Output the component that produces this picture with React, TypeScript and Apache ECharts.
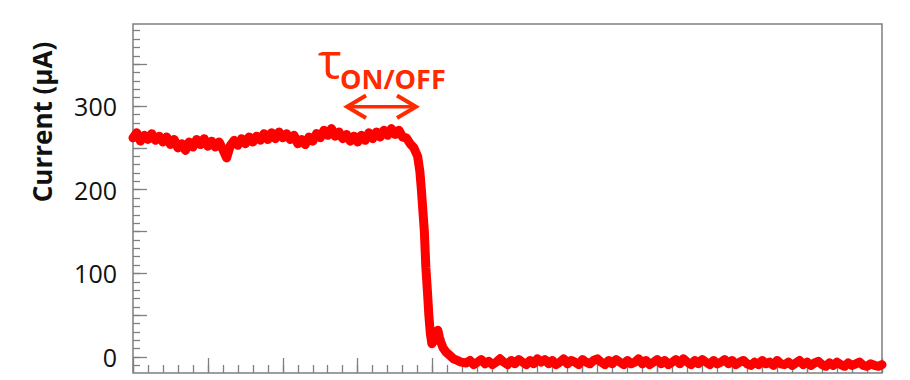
import React, { useEffect, useRef } from "react";
import * as echarts from "echarts";

// Time axis (arbitrary units, 0..10), current in µA
const TIME_MIN = 0;
const TIME_MAX = 10;
const CURRENT_MIN = -19;
const CURRENT_MAX = 398;

const labelTicks = [0, 100, 200, 300];
const mediumTicks = [0, 50, 100, 150, 200, 250, 300, 350];
const minorTicks = [-10, 0, 10, 20, 30, 40, 50, 60, 70, 80, 90, 100, 110, 120, 130, 140, 150, 160, 170, 180, 190, 200, 210, 220, 230, 240, 250, 260, 270, 280, 290, 300, 310, 320, 330, 340, 350, 360, 370, 380, 390];

// ON plateau, sampled every 0.05 from t = 0
const plateauStart = 0;
const plateauStep = 0.05;
const plateauCurrent = [
  262, 268, 258, 265, 260, 267, 259, 264, 257, 263,
  254, 260, 250, 255, 247, 257, 251, 260, 254, 261,
  252, 258, 251, 257, 248, 238, 253, 259, 253, 261,
  255, 263, 257, 264, 259, 267, 260, 268, 261, 269,
  262, 267, 260, 265, 255, 260, 254, 263, 258, 267,
  262, 271, 265, 273, 264, 269, 261, 266, 258, 264,
  257, 265, 259, 268, 261, 269, 263, 271, 265, 273,
  266, 271, 263, 262, 255, 250, 240,
];

// switching transient
const dropTime = [3.83, 3.85, 3.87, 3.89, 3.91, 3.93, 3.95, 3.97, 3.99, 4.02, 4.05, 4.07, 4.09, 4.11, 4.14, 4.18, 4.23, 4.28, 4.33, 4.38];
const dropCurrent = [222, 200, 175, 150, 107, 80, 50, 28, 16, 20, 30, 32, 24, 18, 11, 6, 2, -2, -4, -6];

// OFF tail, sampled every 0.05 from t = 4.45
const tailStart = 4.45;
const tailStep = 0.05;
const tailCurrent = [
  -7, -4, -9, -6, -3, -8, -5, -9, -6, -2,
  -6, -9, -4, -8, -3, -6, -9, -4, -8, -2,
  -6, -3, -8, -4, -9, -6, -2, -8, -4, -6,
  -9, -3, -6, -8, -4, -2, -6, -9, -4, -8,
  -3, -6, -9, -4, -8, -6, -2, -8, -4, -9,
  -6, -3, -8, -4, -9, -6, -3, -8, -2, -6,
  -9, -4, -8, -3, -6, -9, -4, -8, -6, -3,
  -8, -4, -9, -6, -4, -8, -10, -6, -9, -4,
  -8, -6, -10, -4, -8, -9, -6, -10, -7, -4,
  -9, -6, -10, -7, -5, -9, -11, -7, -10, -6,
  -9, -11, -7, -10, -8, -6, -10, -11, -8, -10,
  -11, -9,
];

const yTitle = "Current (μA)";
const tauText = "τ";
const subText = "ON/OFF";

const FRAME = "#7f7f7f";
const LINE_RED = "#ff0000";
const ANNOT = "#ff2a00";
const FONT = "'Open Sans', 'Noto Sans', sans-serif";

function buildData(): number[][] {
  const d: number[][] = [];
  plateauCurrent.forEach((v, i) => d.push([+(plateauStart + i * plateauStep).toFixed(3), v]));
  dropTime.forEach((t, i) => d.push([t, dropCurrent[i]]));
  tailCurrent.forEach((v, i) => d.push([+(tailStart + i * tailStep).toFixed(3), v]));
  return d;
}

export default function App() {
  const ref = useRef<HTMLDivElement>(null);
  useEffect(() => {
    if (!ref.current) return;
    const chart = echarts.init(ref.current, undefined, { renderer: "svg" });
    const grid = { left: 133, right: 28, top: 24, bottom: 7, show: true, borderColor: FRAME, borderWidth: 1.5, backgroundColor: "transparent" };
    const tickStyle = (len: number, color = FRAME) => ({ show: true, inside: true, length: len, lineStyle: { color, width: 1.3 } });
    chart.setOption({
      animation: false,
      grid,
      xAxis: [
        {
          type: "value", min: TIME_MIN, max: TIME_MAX, interval: 1, position: "bottom",
          axisLine: { show: false, onZero: false }, axisTick: tickStyle(15), axisLabel: { show: false }, splitLine: { show: false },
        },
        {
          type: "value", min: TIME_MIN, max: TIME_MAX, interval: 0.2, position: "bottom",
          axisLine: { show: false, onZero: false }, axisTick: tickStyle(8), axisLabel: { show: false }, splitLine: { show: false },
        },
      ],
      yAxis: [
        {
          type: "value", min: CURRENT_MIN, max: CURRENT_MAX, position: "left",
          axisLine: { show: false, onZero: false },
          axisTick: { ...tickStyle(14), customValues: mediumTicks },
          axisLabel: { show: true, customValues: labelTicks, margin: 16, fontFamily: FONT, fontSize: 25, color: "#111" },
          splitLine: { show: false },
        },
        {
          type: "value", min: CURRENT_MIN, max: CURRENT_MAX, position: "left",
          axisLine: { show: false, onZero: false },
          axisTick: { ...tickStyle(7), customValues: minorTicks },
          axisLabel: { show: true, customValues: minorTicks, formatter: () => "" },
          splitLine: { show: false },
        },
      ],
      series: [
        {
          type: "line",
          data: buildData(),
          showSymbol: false,
          lineStyle: { color: LINE_RED, width: 9, join: "round", cap: "round" },
          xAxisIndex: 0,
          yAxisIndex: 0,
        },
      ],
      graphic: [
        {
          type: "text", x: 42, y: 122, rotation: Math.PI / 2,
          style: { text: yTitle, fontFamily: FONT, fontWeight: "bold", fontSize: 26, fill: "#111", align: "center", verticalAlign: "middle" },
        },
        {
          type: "text", x: 318, y: 85,
          style: { text: tauText, fontFamily: FONT, fontSize: 50, fill: ANNOT, align: "left", verticalAlign: "bottom" },
        },
        {
          type: "text", x: 340, y: 92,
          style: { text: subText, fontFamily: FONT, fontWeight: "bold", fontSize: 27, fill: ANNOT, align: "left", verticalAlign: "bottom" },
        },
        {
          type: "line", shape: { x1: 349, y1: 106.7, x2: 414, y2: 106.7 },
          style: { stroke: ANNOT, lineWidth: 3.5 },
        },
        {
          type: "polyline", shape: { points: [[366, 95.5], [347, 106.7], [366, 118]] },
          style: { stroke: ANNOT, lineWidth: 4, fill: null },
        },
        {
          type: "polyline", shape: { points: [[397, 95.5], [416, 106.7], [397, 118]] },
          style: { stroke: ANNOT, lineWidth: 4, fill: null },
        },
      ],
    });
    return () => chart.dispose();
  }, []);
  return <div ref={ref} style={{ position: "fixed", left: 0, top: 0, width: 910, height: 380, background: "#fff" }} />;
}
